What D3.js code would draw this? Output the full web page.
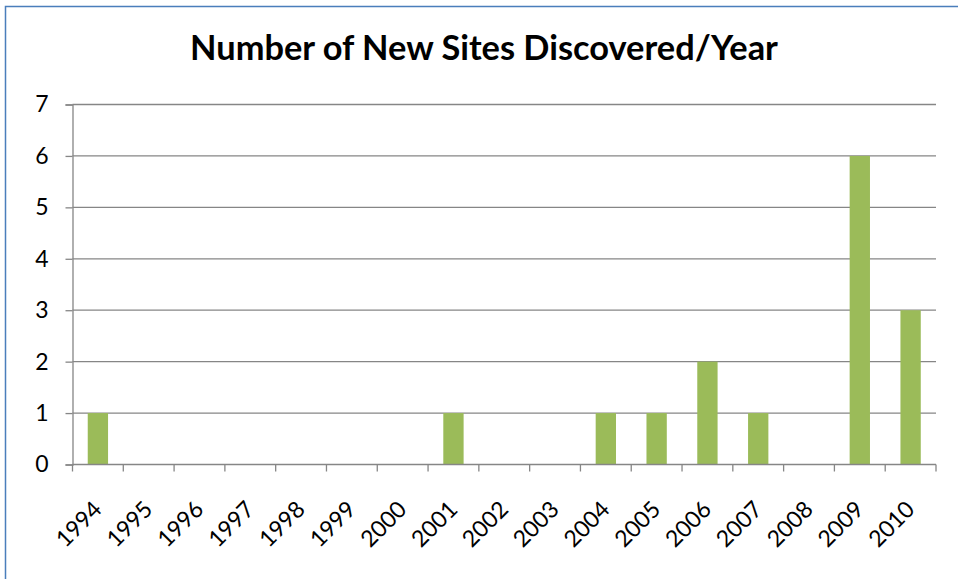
<!DOCTYPE html>
<html>
<head>
<meta charset="utf-8">
<script src="https://cdn.jsdelivr.net/npm/d3@7"></script>
<style>
  html, body { margin: 0; padding: 0; background: #fff; }
  svg { display: block; }
</style>
</head>
<body>
<svg id="chart" width="958" height="579"></svg>
<script>
const title = "Number of New Sites Discovered/Year";
const years = ["1994","1995","1996","1997","1998","1999","2000","2001","2002","2003","2004","2005","2006","2007","2008","2009","2010"];
const sites = [1,0,0,0,0,0,0,1,0,0,1,1,2,1,0,6,3];
const yTicks = [0,1,2,3,4,5,6,7];

const W = 958, H = 579;
const margin = {left: 72.5, right: 22, top: 104.5, bottom: 114.5};
const FONT = "Lato, 'Open Sans', sans-serif";
const LABEL_SIZE = 23;

const svg = d3.select("#chart");

svg.append("rect")
  .attr("x", 5.5).attr("y", 6.5)
  .attr("width", 1000).attr("height", 1000)
  .attr("fill", "#fff")
  .attr("stroke", "#4a7ebb").attr("stroke-width", 1.5);

const xb = d3.scaleBand().domain(years).range([margin.left, W - margin.right]);
const y = d3.scaleLinear().domain([0, 7]).range([H - margin.bottom, margin.top]);

svg.append("g")
  .selectAll("line")
  .data(yTicks.filter(d => d > 0))
  .join("line")
  .attr("x1", margin.left).attr("x2", W - margin.right)
  .attr("y1", d => y(d)).attr("y2", d => y(d))
  .attr("stroke", "#868686").attr("stroke-width", 1.3);

const barW = xb.bandwidth() / 2.5;
svg.append("g")
  .selectAll("rect")
  .data(years.map((yr, i) => ({yr, v: sites[i]})).filter(d => d.v > 0))
  .join("rect")
  .attr("x", d => xb(d.yr) + (xb.bandwidth() - barW) / 2)
  .attr("width", barW)
  .attr("y", d => y(d.v))
  .attr("height", d => y(0) - y(d.v))
  .attr("fill", "#9bbb59");

const yAxis = svg.append("g")
  .attr("transform", `translate(${margin.left},0)`)
  .call(d3.axisLeft(y).tickValues(yTicks).tickFormat(d3.format("d")).tickSize(7).tickPadding(17));
yAxis.select(".domain").attr("stroke", "#868686").attr("stroke-width", 1.3);
yAxis.selectAll(".tick line").attr("stroke", "#868686").attr("stroke-width", 1.3);
yAxis.selectAll(".tick text")
  .attr("font-family", FONT).attr("font-size", LABEL_SIZE).attr("fill", "#000");

const xAxisG = svg.append("g").attr("transform", `translate(0,${y(0)})`);
xAxisG.append("line")
  .attr("x1", margin.left).attr("x2", W - margin.right)
  .attr("stroke", "#868686").attr("stroke-width", 1.3);
const bounds = years.map(d => xb(d)).concat([xb(years[years.length - 1]) + xb.bandwidth()]);
xAxisG.selectAll("line.tk")
  .data(bounds)
  .join("line").attr("class", "tk")
  .attr("x1", d => d).attr("x2", d => d)
  .attr("y1", 0).attr("y2", 7)
  .attr("stroke", "#868686").attr("stroke-width", 1.3);
xAxisG.selectAll("text")
  .data(years)
  .join("text")
  .attr("transform", d => `translate(${xb(d) + xb.bandwidth() / 2 - 1},${40}) rotate(-45)`)
  .attr("text-anchor", "end")
  .attr("dominant-baseline", "central")
  .attr("font-family", FONT).attr("font-size", LABEL_SIZE).attr("fill", "#000")
  .text(d => d);

const t = svg.append("text")
  .attr("x", 484).attr("y", 60)
  .attr("text-anchor", "middle")
  .attr("font-family", FONT).attr("font-weight", "bold")
  .attr("font-size", 26).attr("fill", "#000")
  .text(title);
const tw = t.node().getComputedTextLength();
t.attr("font-size", 26 * 588 / tw);
</script>
</body>
</html>
